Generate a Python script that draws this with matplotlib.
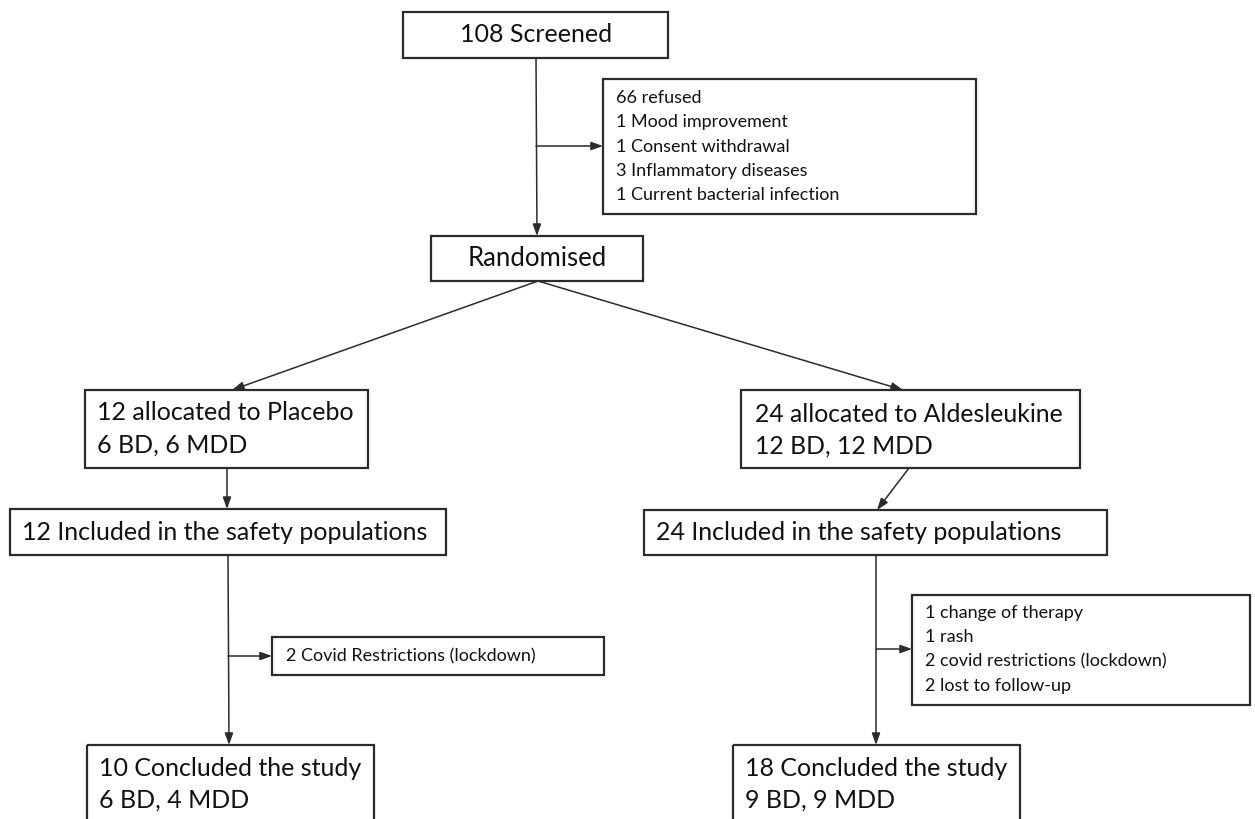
"""
Diagramme de flux de l'essai (placebo / aldesleukine)
"""

import matplotlib
matplotlib.use("Agg")
import matplotlib.pyplot as plt
from matplotlib.patches import Rectangle

plt.rcParams['font.family'] = ['Lato', 'DejaVu Sans']

# textes des boites
txt_screened = ["108 Screened"]
txt_refused = ["66 refused", "1 Mood improvement", "1 Consent withdrawal",
               "3 Inflammatory diseases", "1 Current bacterial infection"]
txt_random = ["Randomised"]
txt_placebo = ["12 allocated to Placebo", "6 BD, 6 MDD"]
txt_aldes = ["24 allocated to Aldesleukine", "12 BD, 12 MDD"]
txt_safety_p = ["12 Included in the safety populations"]
txt_safety_a = ["24 Included in the safety populations"]
txt_lost_p = ["2 Covid Restrictions (lockdown)"]
txt_lost_a = ["1 change of therapy", "1 rash", "2 covid restrictions (lockdown)",
              "2 lost to follow-up"]
txt_fin_p = ["10 Concluded the study", "6 BD, 4 MDD"]
txt_fin_a = ["18 Concluded the study", "9 BD, 9 MDD"]

W, H = 1255, 819
fig = plt.figure(figsize=(W / 100, H / 100), dpi=100)
ax = fig.add_axes([0, 0, 1, 1])
ax.set_xlim(0, W)
ax.set_ylim(H, 0)
ax.axis('off')

COUL = '#2b2b2b'


def boite(x0, y0, x1, y1, lignes, tx, ty, pas, taille, centre=False):
    ax.add_patch(Rectangle((x0, y0), x1 - x0, y1 - y0, fill=False,
                           edgecolor=COUL, lw=1.6, clip_on=False))
    for i, l in enumerate(lignes):
        ax.text(tx, ty + i * pas, l, fontsize=taille, color='#111111',
                ha='center' if centre else 'left', va='center')


def fleche(xa, ya, xb, yb):
    ax.annotate('', xy=(xb, yb), xytext=(xa, ya),
                arrowprops=dict(arrowstyle='-|>,head_length=0.7,head_width=0.25',
                                color=COUL, lw=1.1, shrinkA=0, shrinkB=0))


boite(403, 12, 668, 58, txt_screened, 536, 35, 0, 18, centre=True)
boite(603, 79, 976, 214, txt_refused, 616, 98, 24.3, 13)
boite(431, 236, 643, 281, txt_random, 537, 258, 0, 18.5, centre=True)
boite(85, 390, 368, 468, txt_placebo, 97, 413, 32, 18)
boite(741, 390, 1080, 468, txt_aldes, 755, 414, 32, 17.8)
boite(10, 509, 446, 555, txt_safety_p, 22, 533, 0, 18)
boite(644, 510, 1107, 555, txt_safety_a, 656, 533, 0, 18)
boite(272, 637, 604, 675, txt_lost_p, 286, 656, 0, 13)
boite(912, 595, 1250, 705, txt_lost_a, 925, 613, 24.3, 13)
boite(87, 745, 374, 830, txt_fin_p, 99, 768, 32, 18)
boite(733, 745, 1020, 830, txt_fin_a, 745, 768, 32, 18)

# liaisons
fleche(536, 58, 537, 236)
fleche(536, 146, 603, 146)
fleche(538, 281, 232, 390)
fleche(538, 281, 903, 390)
fleche(227, 468, 227, 509)
fleche(909, 468, 877, 510)
fleche(228, 555, 229, 745)
fleche(228, 656, 272, 656)
fleche(876, 555, 876, 745)
fleche(876, 649, 912, 649)

fig.savefig('out.png', dpi=100)
